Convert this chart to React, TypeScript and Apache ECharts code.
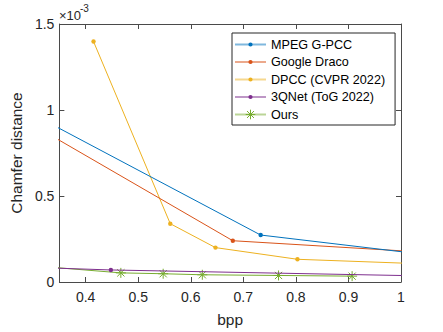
import React, { useEffect, useRef } from "react";
import * as echarts from "echarts";

// bpp values (x) and Chamfer distance (×10^-3) values (y) per method
const mpegX = [0.25, 0.733, 1.1];
const mpegY = [1.055, 0.273, 0.14];
const dracoX = [0.25, 0.68, 1.1];
const dracoY = [1.001, 0.24, 0.163];
const dpccX = [0.415, 0.561, 0.647, 0.803, 1.1];
const dpccY = [1.398, 0.339, 0.2, 0.132, 0.099];
const qnetX = [0.25, 0.448, 1.1];
const qnetY = [0.09, 0.07, 0.032];
const oursX = [0.25, 0.467, 0.5475, 0.622, 0.767, 0.907];
const oursY = [0.107, 0.053, 0.048, 0.042, 0.038, 0.034];

const seriesNames = ["MPEG G-PCC", "Google Draco", "DPCC (CVPR 2022)", "3QNet (ToG 2022)", "Ours"];
const xTicks = [0.4, 0.5, 0.6, 0.7, 0.8, 0.9, 1];

const COLORS = ["#0072BD", "#D95319", "#EDB120", "#7E2F8E", "#77AC30"];
const FONT = "Liberation Sans, Arial, Helvetica, sans-serif";
const DOT = "path://M-5,-5L-5,-5M5,5L5,5M0,-2.2A2.2,2.2 0 1 1 0,2.2A2.2,2.2 0 1 1 0,-2.2Z";
const STAR = "path://M0,-5L0,5M-5,0L5,0M-3.6,-3.6L3.6,3.6M-3.6,3.6L3.6,-3.6";

const pairs = (xs: number[], ys: number[]) => xs.map((x, i) => [x, ys[i]]);

export default function App() {
  const ref = useRef<HTMLDivElement>(null);
  useEffect(() => {
    if (!ref.current) return;
    const chart = echarts.init(ref.current, undefined, { renderer: "svg" });
    const axisColor = "#4a4a4a";
    const dataSets = [
      pairs(mpegX, mpegY),
      pairs(dracoX, dracoY),
      pairs(dpccX, dpccY),
      pairs(qnetX, qnetY),
      pairs(oursX, oursY),
    ];
    const series = dataSets.map((d, i) => {
      const isStar = i === 4;
      return {
        name: seriesNames[i],
        type: "line",
        data: d,
        clip: true,
        symbol: isStar ? STAR : DOT,
        symbolSize: 10,
        showAllSymbol: true,
        lineStyle: { color: COLORS[i], width: 1 },
        itemStyle: isStar
          ? { color: COLORS[i], borderColor: COLORS[i], borderWidth: 1 }
          : { color: COLORS[i], borderWidth: 0 },
        emphasis: { disabled: true },
        z: 2 + (4 - i),
      };
    });
    const xCommon = {
      type: "value",
      min: 0.35,
      max: 1,
      splitLine: { show: false },
      axisLine: { show: true, onZero: false, lineStyle: { color: axisColor, width: 1 } },
      axisTick: { show: true, inside: true, length: 5, customValues: xTicks, lineStyle: { color: axisColor } },
    };
    const yCommon = {
      type: "value",
      min: 0,
      max: 1.5,
      interval: 0.5,
      splitLine: { show: false },
      axisLine: { show: true, onZero: false, lineStyle: { color: axisColor, width: 1 } },
      axisTick: { show: true, inside: true, length: 5, lineStyle: { color: axisColor } },
    };
    chart.setOption({
      animation: false,
      backgroundColor: "#ffffff",
      grid: { left: 57, right: 42, top: 24, bottom: 46, containLabel: false },
      xAxis: [
        {
          ...xCommon,
          position: "bottom",
          name: "bpp",
          nameLocation: "middle",
          nameGap: 29,
          nameTextStyle: { fontSize: 15.5, fontFamily: FONT, color: "#262626" },
          axisLabel: {
            show: true,
            customValues: xTicks,
            margin: 8,
            fontSize: 14,
            fontFamily: FONT,
            color: "#262626",
          },
        },
        { ...xCommon, position: "top", axisLabel: { show: false } },
      ],
      yAxis: [
        {
          ...yCommon,
          position: "left",
          name: "Chamfer distance",
          nameLocation: "middle",
          nameGap: 29,
          nameTextStyle: { fontSize: 15.5, fontFamily: FONT, color: "#262626" },
          axisLabel: { show: true, margin: 5, fontSize: 14, fontFamily: FONT, color: "#262626" },
        },
        { ...yCommon, position: "right", axisLabel: { show: false } },
      ],
      legend: {
        orient: "vertical",
        left: 232,
        top: 33,
        itemWidth: 31,
        itemHeight: 12,
        itemGap: 4.5,
        padding: [5, 10, 4, 2],
        borderColor: "#262626",
        borderWidth: 1,
        borderRadius: 0,
        backgroundColor: "#ffffff",
        selectedMode: false,
        textStyle: { fontSize: 12.6, fontFamily: FONT, color: "#000000", lineHeight: 12 },
        lineStyle: { width: 2, opacity: 0.5 },
        data: seriesNames.map((n, i) =>
          i === 4 ? { name: n, itemStyle: { borderWidth: 1 } } : { name: n, itemStyle: { borderWidth: 0 } }
        ),
      },
      graphic: [
        {
          type: "text",
          left: 59,
          top: 9,
          style: { text: "×10", fontSize: 13, fontFamily: FONT, fill: "#262626" },
        },
        {
          type: "text",
          left: 80,
          top: 3,
          style: { text: "-3", fontSize: 10, fontFamily: FONT, fill: "#262626" },
        },
      ],
      series,
    });
    return () => chart.dispose();
  }, []);
  return (
    <div
      ref={ref}
      style={{ position: "fixed", left: 0, top: 0, width: 443, height: 332 }}
    />
  );
}
